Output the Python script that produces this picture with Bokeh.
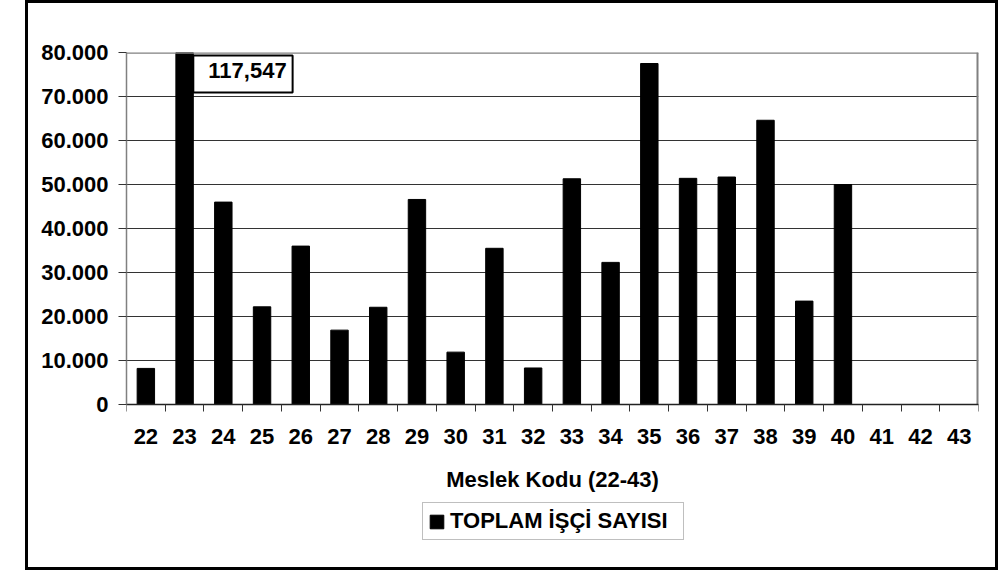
from bokeh.plotting import figure
from bokeh.models import (Range1d, FixedTicker, Legend, LegendItem, Label, Span,
                          ColumnDataSource, InlineStyleSheet)
from bokeh.embed import file_html
from bokeh.resources import INLINE

# ---- data ----
codes = list(range(22, 44))
workers = [8200, 117547, 46000, 22200, 36000, 16900, 22100, 46600, 11900, 35500,
           8300, 51300, 32300, 77500, 51400, 51700, 64600, 23500, 50000, 0, 0, 0]
y_ticks = [0, 10000, 20000, 30000, 40000, 50000, 60000, 70000, 80000]
y_tick_labels = ["0", "10.000", "20.000", "30.000", "40.000", "50.000",
                 "60.000", "70.000", "80.000"]
series_name = "TOPLAM İŞÇİ SAYISI"
x_title = "Meslek Kodu (22-43)"

# ---- layout constants (pixels) ----
W, H = 1001, 572
FRAME_LEFT, FRAME_RIGHT = 126, 978
FRAME_TOP, ZERO_PX, FRAME_BOTTOM = 52, 404, 548

FONT = "Liberation Sans"
FS = "22px"
BAR_W = 0.45

# frame extends below the value axis so the legend can sit inside it
y_start = -y_ticks[-1] * (FRAME_BOTTOM - ZERO_PX) / (ZERO_PX - FRAME_TOP)

src = ColumnDataSource(dict(code=codes, value=workers))

p = figure(width=W, height=H, output_backend="svg", toolbar_location=None,
           x_range=Range1d(codes[0] - 0.5, codes[-1] + 0.5),
           y_range=Range1d(y_start, y_ticks[-1]),
           min_border_left=FRAME_LEFT, min_border_right=W - FRAME_RIGHT,
           min_border_top=FRAME_TOP, min_border_bottom=H - FRAME_BOTTOM)
p.stylesheets = [InlineStyleSheet(css=(
    ":host::after { content: ''; position: absolute; left: 25px; top: 0px; "
    "width: 973px; height: 570px; border: 3px solid black; "
    "box-sizing: border-box; pointer-events: none; }"))]
p.background_fill_color = "white"
p.border_fill_color = "white"
p.outline_line_color = None

r = p.vbar(x="code", top="value", width=BAR_W, bottom=0, source=src,
           fill_color="black", line_color="black", line_width=1)

# grid
p.xgrid.grid_line_color = None
p.ygrid.ticker = FixedTicker(ticks=y_ticks)
p.ygrid.grid_line_color = "#333333"
p.ygrid.grid_line_width = 1

# plot-area frame (top and right, grey)
p.add_layout(Span(location=y_ticks[-1], dimension="width",
                  line_color="#808080", line_width=2.5))
p.segment(x0=[codes[-1] + 0.5], y0=[y_ticks[0]], x1=[codes[-1] + 0.5],
          y1=[y_ticks[-1]], line_color="#808080", line_width=4)

# y axis
ya = p.yaxis[0]
ya.bounds = (y_ticks[0], y_ticks[-1])
ya.ticker = FixedTicker(ticks=y_ticks)
ya.major_label_overrides = {t: l for t, l in zip(y_ticks, y_tick_labels)}
ya.axis_line_color = "#808080"
ya.axis_line_width = 1.5
ya.major_tick_line_color = "#333333"
ya.major_tick_in = 0
ya.major_tick_out = 8
ya.minor_tick_line_color = None
ya.major_label_standoff = 10
ya.major_label_text_font = FONT
ya.major_label_text_font_style = "bold"
ya.major_label_text_font_size = FS
ya.major_label_text_color = "black"

# x axis, drawn at value 0
xa = p.xaxis[0]
xa.fixed_location = 0
xa.ticker = FixedTicker(ticks=codes,
                        minor_ticks=[c - 0.5 for c in codes] + [codes[-1] + 0.5])
xa.axis_line_color = "#222222"
xa.axis_line_width = 1.5
xa.major_tick_line_color = None
xa.major_tick_in = 0
xa.major_tick_out = 0
xa.minor_tick_line_color = "#333333"
xa.minor_tick_in = 0
xa.minor_tick_out = 7
xa.major_label_standoff = 17
xa.major_label_text_font = FONT
xa.major_label_text_font_style = "bold"
xa.major_label_text_font_size = FS
xa.major_label_text_color = "black"
xa.axis_label = x_title
xa.axis_label_text_font = FONT
xa.axis_label_text_font_style = "bold"
xa.axis_label_text_font_size = FS
xa.axis_label_text_color = "black"
xa.axis_label_standoff = 20

# clipped-bar value label
i23 = codes.index(23)
lbl = Label(x=codes[i23] + BAR_W / 2, y=y_ticks[-1], x_units="data", y_units="data",
            text=f"{workers[i23]:,}", text_font=FONT, text_font_style="bold",
            text_font_size=FS, text_color="black", text_align="left",
            text_baseline="top",
            border_line_color="black", border_line_width=2,
            background_fill_color="white",
            padding=dict(left=15, right=6, top=7, bottom=15), y_offset=-3)
p.add_layout(lbl)

# legend (inside the extended frame, below the axis title)
legend = Legend(items=[LegendItem(label=series_name, renderers=[r])],
                location=(296, 8),
                border_line_color="#808080", border_line_width=1.5,
                background_fill_color="white",
                label_text_font=FONT, label_text_font_style="bold",
                label_text_font_size=FS, label_text_color="black",
                glyph_width=17, glyph_height=17, label_width=228,
                label_standoff=5, padding=5, margin=0)
p.add_layout(legend)

open("out.html", "w").write(file_html(p, INLINE))
